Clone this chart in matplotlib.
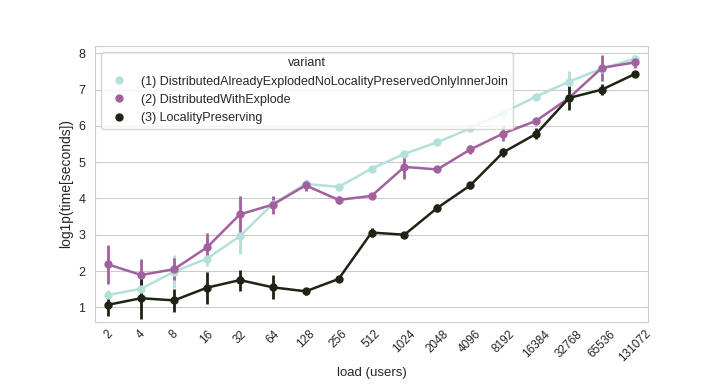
import numpy as np
import matplotlib
matplotlib.use("Agg")
import matplotlib.pyplot as plt
import seaborn as sns

loads = ["2", "4", "8", "16", "32", "64", "128", "256", "512", "1024", "2048",
         "4096", "8192", "16384", "32768", "65536", "131072"]

variants = ["(1) DistributedAlreadyExplodedNoLocalityPreservedOnlyInnerJoin",
            "(2) DistributedWithExplode",
            "(3) LocalityPreserving"]

# mean log1p(time) per load
v1 = [1.34, 1.51, 1.98, 2.34, 2.96, 3.85, 4.40, 4.32, 4.82, 5.23, 5.55,
      5.93, 6.36, 6.81, 7.22, 7.58, 7.85]
v2 = [2.18, 1.89, 2.05, 2.65, 3.56, 3.83, 4.36, 3.96, 4.07, 4.87, 4.80,
      5.35, 5.79, 6.14, 6.77, 7.60, 7.75]
v3 = [1.07, 1.25, 1.19, 1.54, 1.75, 1.55, 1.44, 1.78, 3.06, 3.00, 3.74,
      4.36, 5.27, 5.78, 6.77, 7.00, 7.43]

# confidence interval half-widths
e1 = [0.15, 0.10, 0.45, 0.20, 0.48, 0.08, 0.10, 0.05, 0.05, 0.10, 0.05,
      0.05, 0.08, 0.10, 0.29, 0.05, 0.10]
e2 = [0.55, 0.45, 0.30, 0.40, 0.50, 0.25, 0.15, 0.12, 0.08, 0.34, 0.05,
      0.12, 0.20, 0.05, 0.10, 0.35, 0.15]
e3 = [0.30, 0.57, 0.31, 0.44, 0.29, 0.33, 0.10, 0.05, 0.12, 0.05, 0.12,
      0.10, 0.12, 0.15, 0.33, 0.15, 0.05]

colors = ["#b3e0d8", "#a3609f", "#1e2414"]

sns.set_style("whitegrid")
plt.rcParams['font.family'] = ['Liberation Sans', 'DejaVu Sans']

fig, ax = plt.subplots(figsize=(7.2, 3.84), dpi=100)
fig.subplots_adjust(left=0.132, right=0.9, top=0.88, bottom=0.162)

x = np.arange(len(loads))
for name, vals, errs, c in zip(variants, [v1, v2, v3], [e1, e2, e3], colors):
    vals = np.array(vals)
    errs = np.array(errs)
    ax.vlines(x, vals - errs, vals + errs, color=c, lw=2, zorder=2)
    ax.plot(x, vals, color=c, lw=1.8, marker="o", ms=5, label=name, zorder=3)

ax.set_xticks(x)
ax.set_xticklabels(loads, rotation=45, fontsize=8.5)
ax.tick_params(axis="y", labelsize=9)
ax.tick_params(axis="x", pad=1)
ax.set_xlim(-0.4, len(loads) - 0.6)
ax.set_ylim(0.6, 8.2)
ax.set_yticks(range(1, 9))
ax.grid(axis="x", visible=False)
ax.set_xlabel("load (users)", fontsize=9.5, labelpad=2)
ax.set_ylabel("log1p(time[seconds])", fontsize=10)

handles = [plt.Line2D([], [], color=c, marker="o", ls="", ms=5) for c in colors]
ax.legend(handles, variants, title="variant", loc="upper left", fontsize=9,
          title_fontsize=9, frameon=True)

fig.savefig("out.png")
